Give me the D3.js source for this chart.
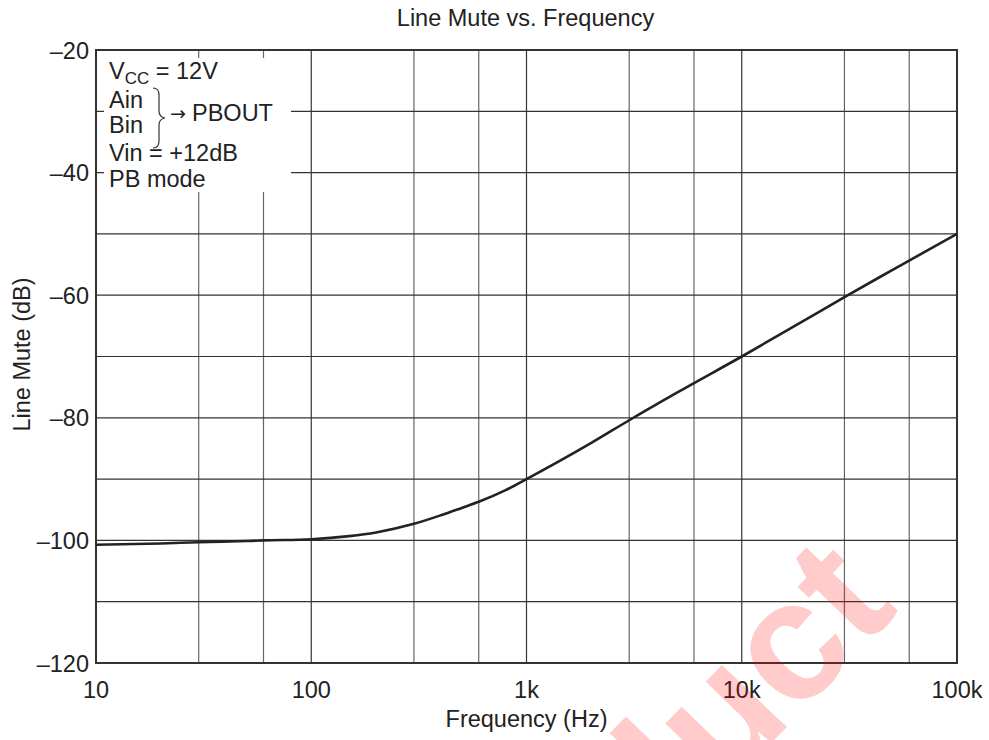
<!DOCTYPE html>
<meta charset="utf-8">
<script src="https://d3js.org/d3.v7.min.js"></script>
<style>
  body { margin: 0; background: #fff; }
  text { font-family: "Liberation Sans", Arial, sans-serif; fill: #222; }
</style>
<div id="chart"></div>
<script>
// curve
var freqs = [10, 20, 30, 50, 60, 100, 150, 200, 300, 400, 500, 600, 800, 1000, 2000, 3000, 5000, 10000, 20000, 30000, 50000, 100000];
var mute  = [-100.7, -100.5, -100.3, -100.1, -100.0, -99.8, -99.3, -98.7, -97.3, -95.9, -94.7, -93.7, -91.8, -90.0, -84.1, -80.4, -75.9, -70.0, -63.9, -60.3, -55.9, -50.0];

var xGrid = [30, 60, 100, 300, 600, 1000, 3000, 6000, 10000, 30000, 60000];
var xTicks = [10, 100, 1000, 10000, 100000];
var xTickLabels = ["10", "100", "1k", "10k", "100k"];
var yGrid = [-110, -100, -90, -80, -70, -60, -50, -40, -30];
var yTicks = [-120, -100, -80, -60, -40, -20];

var W = 989, H = 740;
var margin = {top: 50, right: 32, bottom: 77, left: 96},
    width = W - margin.left - margin.right,
    height = H - margin.top - margin.bottom;
var fs = 23.5;

var svg = d3.select("#chart").append("svg")
    .attr("width", W).attr("height", H);
var g = svg.append("g")
    .attr("transform", "translate(" + margin.left + "," + margin.top + ")");

var x = d3.scaleLog().domain([10, 100000]).range([0, width]);
var y = d3.scaleLinear().domain([-120, -20]).range([height, 0]);

// grid
g.selectAll(".vg").data(xGrid).enter().append("line")
    .attr("x1", d => x(d)).attr("x2", d => x(d))
    .attr("y1", 0).attr("y2", height)
    .attr("stroke", d => (String(d)[0] === "1") ? "#333" : "#666")
    .attr("stroke-width", 1.2);
g.selectAll(".hg").data(yGrid).enter().append("line")
    .attr("x1", 0).attr("x2", width)
    .attr("y1", d => y(d)).attr("y2", d => y(d))
    .attr("stroke", "#333").attr("stroke-width", 1.2);

// legend box (hides the grid behind it)
g.append("rect")
    .attr("x", 8).attr("y", 8).attr("width", 187).attr("height", 134)
    .attr("fill", "#fff");

var lg = g.append("g").attr("font-size", fs);
var t1 = lg.append("text").attr("x", 13).attr("y", 29);
t1.append("tspan").text("V");
t1.append("tspan").attr("font-size", 17).attr("dy", 5).text("CC");
t1.append("tspan").attr("dy", -5).text(" = 12V");
lg.append("text").attr("x", 13).attr("y", 58).text("Ain");
lg.append("text").attr("x", 13).attr("y", 83).text("Bin");
lg.append("text").attr("x", 74).attr("y", 70)
    .style("font-family", "'DejaVu Sans', sans-serif").attr("font-size", 19)
    .text("\u2192");
lg.append("text").attr("x", 96).attr("y", 71).text("PBOUT");
lg.append("text").attr("x", 13).attr("y", 111).text("Vin = +12dB");
lg.append("text").attr("x", 13).attr("y", 137).text("PB mode");
// brace
lg.append("path")
    .attr("d", "M57,38 q6,0 6,7 v16 q0,6 6,7 q-6,1 -6,7 v16 q0,7 -6,7")
    .attr("fill", "none").attr("stroke", "#333").attr("stroke-width", 1.2);

// frame
g.append("rect").attr("width", width).attr("height", height)
    .attr("fill", "none").attr("stroke", "#333").attr("stroke-width", 2);

// axes labels
g.selectAll(".xl").data(xTicks).enter().append("text")
    .attr("x", d => x(d)).attr("y", height + 35)
    .attr("text-anchor", "middle").attr("font-size", fs)
    .text((d, i) => xTickLabels[i]);
g.selectAll(".yl").data(yTicks).enter().append("text")
    .attr("x", -7).attr("y", d => y(d) + 8.5)
    .attr("text-anchor", "end").attr("font-size", fs)
    .text(d => "\u2013" + Math.abs(d));

svg.append("text").attr("x", margin.left + width / 2 - 1).attr("y", 26)
    .attr("text-anchor", "middle").attr("font-size", fs)
    .text("Line Mute vs. Frequency");
svg.append("text").attr("x", margin.left + width / 2).attr("y", 727)
    .attr("text-anchor", "middle").attr("font-size", fs)
    .text("Frequency  (Hz)");
svg.append("text")
    .attr("transform", "translate(30," + (margin.top + height / 2 - 2) + ") rotate(-90)")
    .attr("text-anchor", "middle").attr("font-size", fs)
    .text("Line Mute  (dB)");

// curve
var data = freqs.map((f, i) => ({f: f, v: mute[i]}));
g.append("path").datum(data)
    .attr("fill", "none").attr("stroke", "#222").attr("stroke-width", 2.6)
    .attr("d", d3.line().x(d => x(d.f)).y(d => y(d.v)).curve(d3.curveMonotoneX));

// watermark
svg.append("text")
    .attr("transform", "translate(900,610) rotate(-46)")
    .attr("text-anchor", "end")
    .attr("font-size", 170).attr("font-weight", "bold")
    .style("fill", "#f00").style("opacity", 0.2)
    .text("Product");
</script>
